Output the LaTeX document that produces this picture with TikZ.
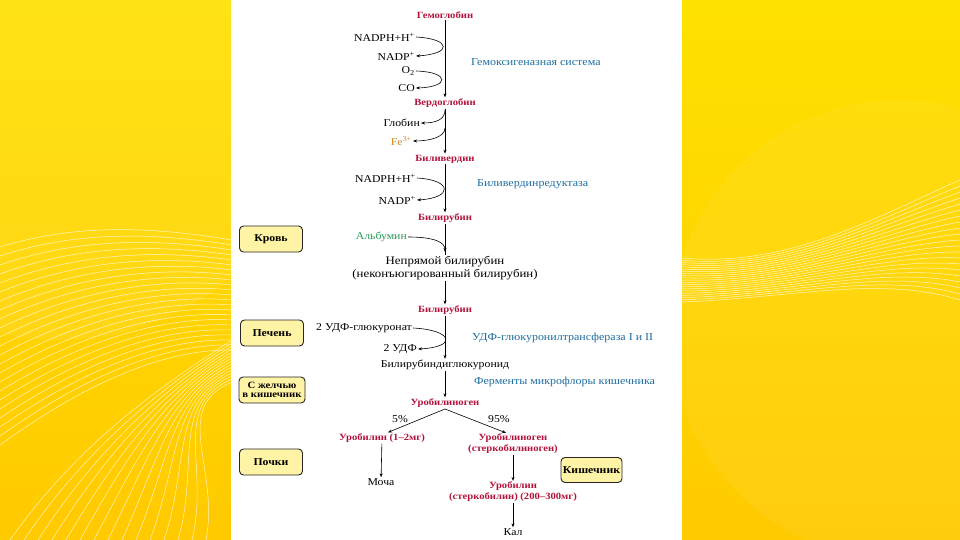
\documentclass[tikz,border=0pt]{standalone}
\usepackage{fontspec}
\setmainfont{Liberation Serif}[FakeStretch=1.12]
\usetikzlibrary{arrows.meta}
\definecolor{lblredc}{HTML}{B0143C}
\definecolor{lblbluec}{HTML}{1F6E9E}
\definecolor{lblgreenc}{HTML}{2A9A5A}
\definecolor{lblorangec}{HTML}{D08A1E}
\definecolor{boxfill}{HTML}{FFF3A6}
\definecolor{bgA}{HTML}{FFE100}
\definecolor{bgB}{HTML}{FFCA00}
\begin{document}
\begin{tikzpicture}[x=1pt,y=-1pt,
  every node/.style={inner sep=1pt},
  txt/.style={font=\fontsize{10.5}{11.5}\selectfont, text=black},
  lblred/.style={font=\fontsize{9.5}{11}\selectfont\bfseries, text=lblredc, align=center},
  lblblue/.style={font=\fontsize{10.7}{12}\selectfont, text=lblbluec, anchor=west},
  place/.style={draw=black!85, line width=0.9pt, rounded corners=4pt, fill=boxfill,
     minimum width=63pt, minimum height=26pt, align=center, font=\fontsize{10.5}{10.5}\selectfont\bfseries},
  arr/.style={-{Stealth[length=4pt,width=3pt]}, line width=0.6pt},
  wave/.style={white, line width=0.5pt, opacity=0.75}
]
\useasboundingbox (0,0) rectangle (960,540);
% background
\shade[top color=bgA, bottom color=bgB] (0,0) rectangle (960,540);
\fill[white, opacity=0.08] (60,80) circle (260);
\fill[white, opacity=0.05] (900,330) circle (230);
\foreach \i in {0,...,22} {
  \draw[wave] (0,{247+9*\i}) .. controls (80,{222+7.5*\i}) and (160,{228+5.5*\i}) .. (232,{240+5*\i});
}
\foreach \i in {0,...,14} {
  \draw[wave] ({10+14*\i},540) .. controls ({80+10*\i},{440+2*\i}) and (170,{380+2*\i}) .. (232,{340+3*\i});
}
\foreach \i in {0,...,20} {
  \draw[wave] (682,{258+2.2*\i}) .. controls (790,{268+1.5*\i}) and (880,{215+3*\i}) .. (960,{180+6*\i});
}
\fill[white] (231,0) rectangle (682,540);

% main chain
\node[lblred] (hb) at (445,15) {Гемоглобин};
\node[txt, anchor=east] (nadph1) at (416,37) {NADPH+Н\textsuperscript{+}};
\node[txt, anchor=east] (nadp1) at (416,56) {NADP\textsuperscript{+}};
\node[txt, anchor=east] (o2) at (416,71) {O\textsubscript{2}};
\node[txt, anchor=east] (co) at (416,88) {CO};
\node[lblblue] (hox) at (470,62) {Гемоксигеназная система};
\node[lblred] (vg) at (445,103) {Вердоглобин};
\node[txt, anchor=east] (glob) at (421,123) {Глобин};
\node[txt, anchor=east, text=lblorangec] (fe) at (413,141) {Fe\textsuperscript{3+}};
\node[lblred] (bv) at (445,159) {Биливердин};
\node[txt, anchor=east] (nadph2) at (417,178) {NADPH+Н\textsuperscript{+}};
\node[lblblue] (bvr) at (476,184) {Биливердинредуктаза};
\node[txt, anchor=east] (nadp2) at (417,200) {NADP\textsuperscript{+}};
\node[lblred] (br1) at (445,218) {Билирубин};
\node[txt, anchor=east, text=lblgreenc] (alb) at (408,237) {Альбумин};
\node[txt, font=\fontsize{11.5}{12.5}\selectfont, align=center] (indir) at (445,268) {Непрямой билирубин\\(неконъюгированный билирубин)};
\node[lblred] (br2) at (445,310) {Билирубин};
\node[txt, anchor=east] (udpg) at (413,328) {2 УДФ-глюкуронат};
\node[lblblue] (ugt) at (471,338) {УДФ-глюкуронилтрансфераза I и II};
\node[txt, anchor=east] (udp) at (418,349) {2 УДФ};
\node[txt] (bdg) at (445,365) {Билирубиндиглюкуронид};
\node[lblblue] (micro) at (473,382) {Ферменты микрофлоры кишечника};
\node[lblred] (ubg) at (445,403) {Уробилиноген};
\node[txt] (p5) at (400,419) {5\%};
\node[txt] (p95) at (499,419) {95\%};
\node[lblred] (ub1) at (382,438) {Уробилин (1--2мг)};
\node[lblred] (ubg2) at (513,444) {Уробилиноген\\(стеркобилиноген)};
\node[txt] (urine) at (381,482) {Моча};
\node[lblred] (ub2) at (513,492) {Уробилин\\(стеркобилин) (200--300мг)};
\node[txt] (feces) at (513,532) {Кал};

% location boxes
\node[place] (blood) at (271,239) {Кровь};
\node[place] (liver) at (272,333) {Печень};
\node[place, minimum width=66pt, inner sep=0pt, font=\fontsize{9.6}{9.6}\selectfont\bfseries] (bile) at (272,390) {С желчью\\в кишечник};
\node[place] (kidney) at (271,462) {Почки};
\node[place, minimum width=61pt, minimum height=25pt, inner sep=0pt] (gut) at (591.5,470) {Кишечник};

% main vertical arrows
\draw[arr] (hb) -- (vg);
\draw[arr] (vg) -- (bv);
\draw[arr] (bv) -- (br1);
\draw[line width=0.6pt] (br1) -- (indir.north -| br1);
\draw[arr] (indir) -- (br2);
\draw[arr] (br2) -- (bdg);
\draw[arr] (bdg) -- (ubg);

% side curves
\draw[arr] (nadph1.east) .. controls +(36,2) and +(36,-2) .. (nadp1.east);
\draw[arr] (o2.east) .. controls +(34,1) and +(34,-1) .. (co.east);
\coordinate (g1) at (445,110);
\coordinate (f1) at (445,128);
\draw[arr] (g1) .. controls +(0,10) and +(14,0) .. (glob.east);
\draw[arr] (f1) .. controls +(0,10) and +(14,0) .. (fe.east);
\draw[arr] (nadph2.east) .. controls +(36,2) and +(36,-2) .. (nadp2.east);
\coordinate (a1) at (445,252);
\draw[arr] (alb.east) .. controls +(26,0) and +(0,-10) .. (a1);
\draw[arr] (udpg.east) .. controls +(40,2) and +(40,-2) .. (udp.east);

% branching
\coordinate (split) at (445,409);
\draw[arr] (split) -- ([xshift=6pt]ub1.north);
\draw[arr] (split) -- ([xshift=-7pt]ubg2.north);
\draw[arr] (ub1) -- (urine);
\draw[arr] (ubg2) -- (ub2);
\draw[arr] (ub2) -- (feces);
\end{tikzpicture}
\end{document}
